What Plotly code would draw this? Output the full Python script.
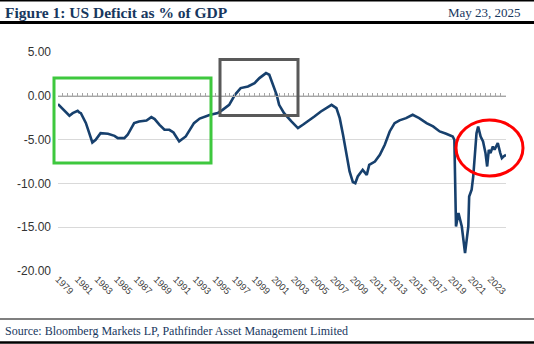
import plotly.graph_objects as go

# ---- data ----
dates = ["1979-01","1979-07","1980-03","1980-07","1981-01","1981-03","1981-05","1981-11",
         "1982-03","1982-07","1982-11","1983-05","1984-02","1984-10","1985-02","1985-10",
         "1986-02","1986-07","1986-10","1987-04","1988-01","1988-07","1988-11","1989-05",
         "1989-11","1990-05","1990-10","1991-05","1992-01","1992-11","1993-06","1994-06",
         "1995-04","1995-10","1996-06","1997-01","1997-08","1998-05","1999-01","1999-07",
         "2000-03","2000-07","2000-11","2001-04","2001-07","2002-01","2002-10","2003-06",
         "2003-12","2004-06","2005-02","2005-10","2006-07","2006-11","2007-05","2007-09",
         "2008-01","2008-05","2008-09","2009-01","2009-04","2009-07","2010-01","2010-06",
         "2010-09","2011-04","2011-10","2012-04","2012-10","2013-04","2013-10","2014-06",
         "2015-02","2015-10","2016-07","2017-03","2017-11","2018-07","2019-03","2019-05",
         "2019-06","2019-07","2019-10","2020-02","2020-06","2020-10","2020-11","2021-02",
         "2021-04","2021-06","2021-08","2021-10","2022-01","2022-04","2022-07","2022-09",
         "2022-11","2023-01","2023-04","2023-06","2023-10","2024-01","2024-03","2024-05",
         "2024-08"]
deficit = [-0.95,-1.5,-2.28,-1.98,-1.71,-1.9,-1.98,-3.1,
           -4.26,-5.33,-5.02,-4.26,-4.34,-4.57,-4.83,-4.83,
           -4.45,-3.69,-3.12,-2.93,-2.82,-2.43,-2.66,-3.31,
           -3.88,-3.88,-4.19,-5.2,-4.64,-3.12,-2.6,-2.2,
           -1.98,-1.6,-1.03,0.11,0.88,1.06,1.45,2.02,
           2.59,2.4,1.45,0.11,-1.03,-1.98,-2.93,-3.69,
           -3.31,-2.93,-2.36,-1.79,-1.22,-1.03,-1.4,-2.55,
           -4.45,-6.36,-8.64,-9.85,-9.97,-9.21,-8.45,-9.02,
           -7.88,-7.5,-6.74,-5.59,-4.07,-3.12,-2.8,-2.55,
           -2.17,-2.55,-3.12,-3.5,-4.07,-4.34,-4.64,-5.02,
           -9.21,-14.92,-13.39,-14.92,-17.96,-14.92,-11.5,-10.73,
           -9.21,-6.16,-4.26,-3.5,-4.64,-5.21,-6.54,-8.07,
           -6.16,-6.54,-5.79,-6.16,-5.4,-6.54,-7.11,-6.93,
           -6.74]
year_ticks = [str(y) for y in range(1979, 2024, 2)]
y_ticks = [5, 0, -5, -10, -15, -20]
y_tick_text = ["5.00", "0.00", "-5.00", "-10.00", "-15.00", "-20.00"]

title_text = "Figure 1: US Deficit as % of GDP"
date_text = "May 23, 2025"
source_text = "Source: Bloomberg Markets LP, Pathfinder Asset Management Limited"

# ---- layout geometry ----
W, H = 534, 344
L, R, T, B = 58, 28, 52, 73
PW, PH = W - L - R, H - T - B

def px(x):
    return (x - L) / PW

def py(y):
    return (H - B - y) / PH

NAVY = "#17375e"
LINE = "#17406d"

fig = go.Figure()
fig.add_trace(go.Scatter(x=dates, y=deficit, mode="lines",
                         line=dict(color=LINE, width=2.6), hoverinfo="skip",
                         showlegend=False))
# helper trace for the zero-crossing axis
fig.add_trace(go.Scatter(x=[dates[0], dates[-1]], y=[0, 0], xaxis="x2", mode="lines",
                         line=dict(width=0), opacity=0, hoverinfo="skip", showlegend=False))

fig.update_layout(
    width=W, height=H,
    margin=dict(l=L, r=R, t=T, b=B),
    paper_bgcolor="white", plot_bgcolor="white",
    xaxis=dict(type="date", range=[dates[0], dates[-1]],
               tickvals=[y + "-01-01" for y in year_ticks], ticktext=year_ticks,
               tickangle=45, showgrid=False, showline=False, ticks="",
               zeroline=False,
               tickfont=dict(family="Liberation Sans", size=9.5, color="#404040")),
    xaxis2=dict(type="date", matches="x", overlaying="x", anchor="free", position=py(96),
                side="bottom", showline=True, linecolor="#a6a6a6", linewidth=1.2,
                ticks="inside", ticklen=3, tickcolor="#a6a6a6", tickwidth=1,
                dtick="M6", tick0="1979-01-01", showticklabels=False, showgrid=False,
                zeroline=False),
    yaxis=dict(range=[-20, 5], tickvals=y_ticks, ticktext=y_tick_text,
               showgrid=True, gridcolor="#d9d9d9", gridwidth=1, zeroline=False,
               showline=False, ticks="", ticklabelstandoff=6,
               tickfont=dict(family="Liberation Sans", size=12, color="#333333")),
)

shapes = [
    # page rules
    dict(type="line", xref="paper", yref="paper", x0=px(0), x1=px(W), y0=py(0.8), y1=py(0.8),
         line=dict(color="black", width=1.5)),
    dict(type="line", xref="paper", yref="paper", x0=px(0), x1=px(W), y0=py(22.5), y1=py(22.5),
         line=dict(color="black", width=3)),
    dict(type="line", xref="paper", yref="paper", x0=px(0), x1=px(W), y0=py(319), y1=py(319),
         line=dict(color="black", width=1.2)),
    dict(type="line", xref="paper", yref="paper", x0=px(0), x1=px(W), y0=py(342.5), y1=py(342.5),
         line=dict(color="black", width=2.5)),
    # highlight boxes
    dict(type="rect", xref="paper", yref="paper", x0=px(54), x1=px(211), y0=py(78), y1=py(163),
         line=dict(color="#3ec83e", width=3)),
    dict(type="rect", xref="paper", yref="paper", x0=px(220), x1=px(298), y0=py(59.5), y1=py(115.5),
         line=dict(color="#595959", width=3)),
    dict(type="circle", xref="paper", yref="paper", x0=px(456), x1=px(523), y0=py(120), y1=py(176),
         line=dict(color="#ff0000", width=3)),
]
fig.update_layout(shapes=shapes)

fig.add_annotation(text=title_text, xref="paper", yref="paper", x=px(3), y=py(12),
                   xanchor="left", yanchor="middle", showarrow=False,
                   font=dict(family="Liberation Serif", size=15.5, color=NAVY, weight="bold"))
fig.add_annotation(text=date_text, xref="paper", yref="paper", x=px(523), y=py(12),
                   xanchor="right", yanchor="middle", showarrow=False,
                   font=dict(family="Liberation Serif", size=13, color=NAVY))
fig.add_annotation(text=source_text, xref="paper", yref="paper", x=px(3), y=py(331),
                   xanchor="left", yanchor="middle", showarrow=False,
                   font=dict(family="Liberation Serif", size=12, color=NAVY))

fig.write_html("out.html")
